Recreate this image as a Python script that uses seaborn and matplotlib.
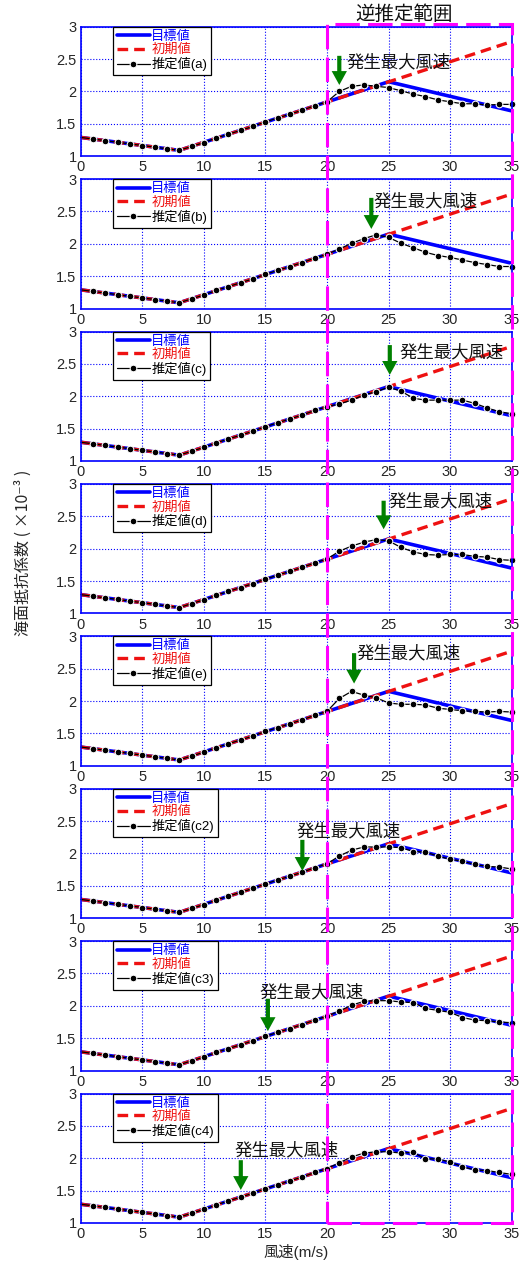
import matplotlib
matplotlib.use("Agg")
import matplotlib.pyplot as plt
import matplotlib.transforms as mtransforms
from matplotlib.patches import Rectangle
import seaborn as sns

# 風速 (m/s)
wind_speed = list(range(0, 36))

# 目標値 / 初期値 の折れ点
target_x = [0, 8, 25, 35]
target_y = [1.29, 1.09, 2.15, 1.70]
initial_x = [0, 8, 35]
initial_y = [1.29, 1.09, 2.77]

# 推定値 0～20 m/s (全ケースほぼ共通)
est_low = [1.29, 1.265, 1.24, 1.215, 1.19, 1.165, 1.14, 1.115, 1.09, 1.15, 1.21,
           1.28, 1.34, 1.40, 1.46, 1.53, 1.59, 1.65, 1.71, 1.78, 1.84]

# 推定値 21～35 m/s
est_a = [2.00, 2.08, 2.10, 2.08, 2.06, 2.01, 1.96, 1.92, 1.87, 1.84, 1.81, 1.81, 1.79, 1.80, 1.80]
est_b = [1.92, 2.01, 2.08, 2.14, 2.10, 2.01, 1.94, 1.87, 1.82, 1.79, 1.75, 1.71, 1.68, 1.65, 1.65]
est_c = [1.88, 1.94, 2.02, 2.07, 2.14, 2.08, 1.97, 1.94, 1.94, 1.94, 1.94, 1.89, 1.82, 1.76, 1.73]
est_d = [1.96, 2.04, 2.10, 2.14, 2.12, 2.02, 1.95, 1.91, 1.90, 1.91, 1.91, 1.88, 1.87, 1.83, 1.82]
est_e = [2.04, 2.15, 2.09, 2.05, 1.97, 1.95, 1.95, 1.94, 1.89, 1.87, 1.85, 1.84, 1.83, 1.84, 1.83]
est_c2 = [1.96, 2.05, 2.10, 2.10, 2.10, 2.09, 2.03, 2.02, 1.96, 1.91, 1.88, 1.83, 1.80, 1.79, 1.76]
est_c3 = [1.92, 2.01, 2.07, 2.08, 2.08, 2.06, 2.05, 1.96, 1.93, 1.90, 1.82, 1.78, 1.77, 1.75, 1.74]
est_c4 = [1.93, 2.02, 2.08, 2.10, 2.10, 2.08, 2.09, 1.99, 1.99, 1.94, 1.87, 1.82, 1.81, 1.78, 1.75]

case_names = ['a', 'b', 'c', 'd', 'e', 'c2', 'c3', 'c4']
est_high = [est_a, est_b, est_c, est_d, est_e, est_c2, est_c3, est_c4]

# 発生最大風速の矢印と文字の位置
arrow_x = [21.0, 23.6, 25.1, 24.6, 22.2, 18.0, 15.2, 13.0]
arrow_top = [2.55, 2.71, 2.79, 2.74, 2.74, 2.21, 2.11, 1.97]
arrow_tip = [2.10, 2.23, 2.33, 2.30, 2.27, 1.73, 1.61, 1.51]
label_x = [21.6, 23.8, 25.9, 25.0, 22.4, 17.5, 14.5, 12.5]
label_y = [2.45, 2.66, 2.68, 2.74, 2.74, 2.35, 2.21, 2.13]

x_ticks = [0, 5, 10, 15, 20, 25, 30, 35]
y_ticks = [1, 1.5, 2, 2.5, 3]
y_ticklabels = ['1', '1.5', '2', '2.5', '3']

sns.set_style("white")
plt.rcParams['font.family'] = ['Liberation Sans', 'Noto Sans CJK JP', 'DejaVu Sans']

W, H = 523, 1263
fig = plt.figure(figsize=(W / 100, H / 100), dpi=100)

left, right = 80.7, 511.7
pitch, height = 152.4, 129.5
last_bottom = 1223.0

axes = []
for i, name in enumerate(case_names):
    bottom_px = last_bottom - (7 - i) * pitch
    ax = fig.add_axes([left / W, (H - bottom_px) / H, (right - left) / W, height / H])
    axes.append(ax)

    est = est_low + est_high[i]
    sns.lineplot(x=target_x, y=target_y, ax=ax, color='#0000ff', linewidth=2.6,
                 label='目標値', sort=False)
    sns.lineplot(x=initial_x, y=initial_y, ax=ax, color='#ee1111', linewidth=2.4,
                 linestyle=(0, (3.2, 1.8)), label='初期値', sort=False)
    sns.lineplot(x=wind_speed, y=est, ax=ax, color='black', linewidth=0.9,
                 marker='o', markersize=4.8, markevery=slice(1, None),
                 label='推定値(' + name + ')', sort=False, clip_on=False)

    ax.set_xlim(0, 35)
    ax.set_ylim(1, 3)
    ax.set_xticks(x_ticks)
    ax.set_yticks(y_ticks)
    ax.set_yticklabels(y_ticklabels)
    ax.set_xlabel('')
    ax.set_ylabel('')
    ax.grid(True, color='#0000ff', linestyle=':', linewidth=0.8)
    ax.tick_params(direction='in', length=3, color='#0000ff', labelsize=10.5, pad=3)
    for sp in ax.spines.values():
        sp.set_color('#0000ff')
        sp.set_linewidth(1.2)

    leg = ax.legend(loc='upper left', bbox_to_anchor=(0.075, 1.0), borderaxespad=0,
                    fontsize=9.5, handlelength=2.5, labelspacing=0.08,
                    handletextpad=0.1, borderpad=0.3, fancybox=False, framealpha=1)
    leg.get_frame().set_edgecolor('black')
    leg.get_frame().set_linewidth(0.9)
    for txt, col in zip(leg.get_texts(), ['#0000ff', '#ee1111', 'black']):
        txt.set_color(col)

    ax.annotate('', xy=(arrow_x[i], arrow_tip[i]), xytext=(arrow_x[i], arrow_top[i]),
                arrowprops=dict(facecolor='#008000', edgecolor='none', width=3,
                                headwidth=11, headlength=10, shrink=0))
    ax.text(label_x[i], label_y[i], '発生最大風速', fontsize=12.5, color='#111111',
            ha='left', va='center')

# 逆推定範囲 (20～35 m/s) の枠
trans = mtransforms.blended_transform_factory(axes[-1].transData, fig.transFigure)
y0 = (H - last_bottom) / H
y1 = (H - 23.5) / H
rect = Rectangle((20, y0), 15, y1 - y0, transform=trans, fill=False,
                 edgecolor='#ff00ff', linewidth=2.2, linestyle=(0, (8, 2.7)),
                 clip_on=False)
fig.add_artist(rect)

trans_top = mtransforms.blended_transform_factory(axes[0].transData, fig.transFigure)
fig.text(26.3, (H - 15) / H, '逆推定範囲', transform=trans_top, fontsize=14,
         ha='center', va='center', color='#111111')

fig.text(0.5665, (H - 1252) / H, '風速(m/s)', fontsize=11, ha='center', va='center')
fig.text(0.045, (H - 553) / H, '海面抵抗係数 ( ×10⁻³ )', fontsize=11.5, rotation=90,
         ha='center', va='center', family=['Noto Sans CJK JP', 'DejaVu Sans'])

fig.savefig('out.png', dpi=100)
plt.close(fig)
